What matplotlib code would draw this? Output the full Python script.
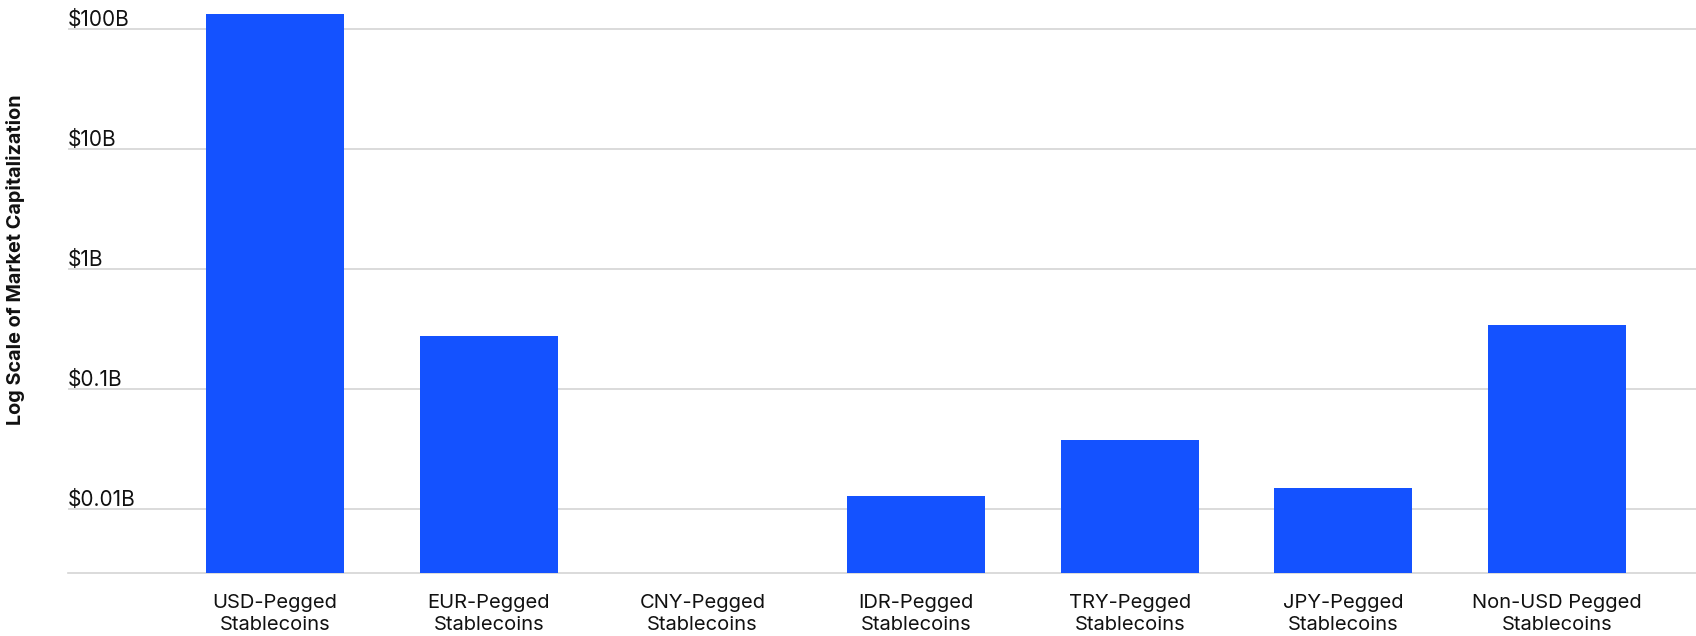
import numpy as np
import matplotlib
matplotlib.use('Agg')
import matplotlib.pyplot as plt
import matplotlib.transforms as mtransforms

plt.rcParams['font.family'] = ['Inter', 'DejaVu Sans']

categories = ['USD-Pegged\nStablecoins', 'EUR-Pegged\nStablecoins', 'CNY-Pegged\nStablecoins',
              'IDR-Pegged\nStablecoins', 'TRY-Pegged\nStablecoins', 'JPY-Pegged\nStablecoins',
              'Non-USD Pegged\nStablecoins']
# market cap in $ billions (CNY too small to show)
market_cap = [133, 0.277, 0.002, 0.0128, 0.0376, 0.015, 0.344]
tick_values = [0.01, 0.1, 1, 10, 100]
tick_labels = ['$0.01B', '$0.1B', '$1B', '$10B', '$100B']

fig = plt.figure(figsize=(16.96, 6.36), dpi=100)
ax = fig.add_axes([68 / 1696, 1 - 573 / 636, 1 - 68 / 1696, 573 / 636])

x = np.arange(len(categories))
ax.bar(x, market_cap, width=0.646, color='#1452ff', zorder=3)

ax.set_yscale('log')
ax.set_ylim(10 ** -2.533, 10 ** 2.2417)
ax.set_xlim(-0.969, 6.65)

ax.set_yticks(tick_values)
ax.yaxis.set_minor_locator(matplotlib.ticker.NullLocator())
ax.set_yticklabels([])
ax.tick_params(axis='y', length=0)
ax.grid(axis='y', color='#d4d4d4', linewidth=1.2, zorder=0)

# labels sit above the gridlines, left aligned
trans = mtransforms.offset_copy(ax.get_yaxis_transform(), fig=fig, x=0, y=-1, units='dots')
for v, lab in zip(tick_values, tick_labels):
    ax.text(0, v, lab, transform=trans, ha='left', va='bottom', fontsize=15, color='#111111')

ax.set_xticks(x)
ax.set_xticklabels(categories, fontsize=14.5, color='#111111', linespacing=1.3)
ax.tick_params(axis='x', length=0, pad=15)

for s in ['top', 'right', 'left']:
    ax.spines[s].set_visible(False)
ax.spines['bottom'].set_color('#d4d4d4')
ax.spines['bottom'].set_linewidth(1.2)

fig.text(16 / 1696, 1 - 260 / 636, 'Log Scale of Market Capitalization', rotation=90,
         ha='center', va='center', fontsize=14.3, fontweight='bold', color='#111111')

fig.savefig('out.png', dpi=100)
